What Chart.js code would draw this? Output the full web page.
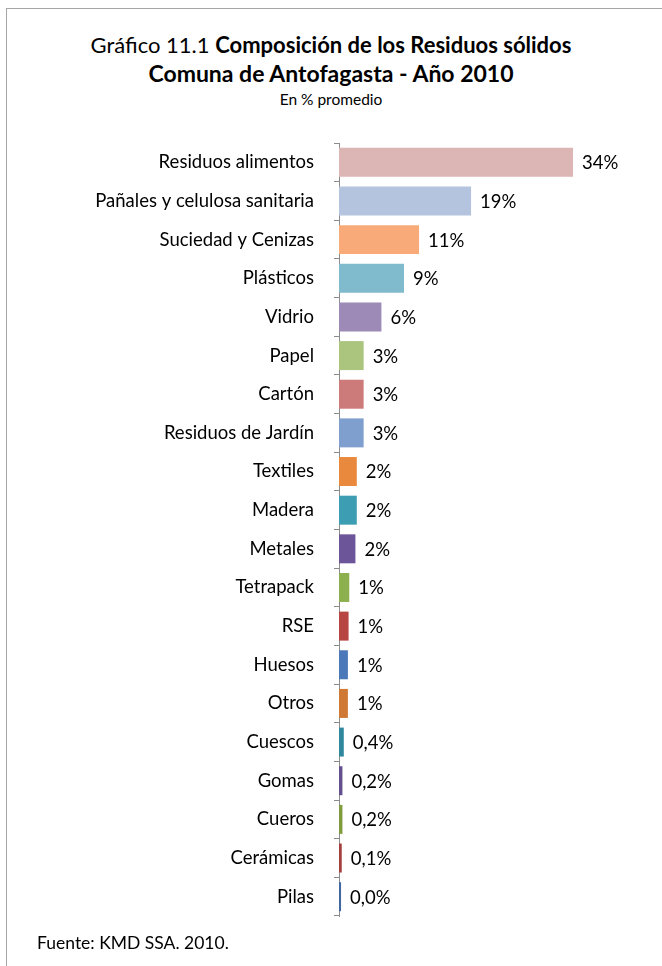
<!DOCTYPE html>
<html>
<head>
<meta charset="utf-8">
<script src="https://cdn.jsdelivr.net/npm/chart.js@4/dist/chart.umd.min.js"></script>
<style>
  html, body { margin: 0; padding: 0; background: #fff; }
  body { width: 662px; height: 966px; position: relative; overflow: hidden; font-family: Lato, "Open Sans", sans-serif; color: #000; }
  .frame { position: absolute; left: 6px; top: 8px; width: 700px; height: 1000px; border: 1px solid #a6a6a6; box-sizing: border-box; }
  .title { position: absolute; left: 0; width: 662px; text-align: center; white-space: nowrap; }
  #t1 { top: 31px; font-size: 22px; }
  #t2 { top: 59px; font-size: 23px; font-weight: bold; }
  #t3 { top: 90px; font-size: 15.5px; }
  #foot { position: absolute; left: 37px; top: 932px; font-size: 17.5px; }
  #wrap { position: absolute; left: 0; top: 0; width: 662px; height: 966px; }
</style>
</head>
<body>
<div class="frame"></div>
<div class="title" id="t1">Gráfico 11.1 <b>Composición de los Residuos sólidos</b></div>
<div class="title" id="t2">Comuna de Antofagasta - Año 2010</div>
<div class="title" id="t3">En % promedio</div>
<div id="wrap"><canvas id="chart"></canvas></div>
<div id="foot">Fuente: KMD SSA. 2010.</div>
<script>
  // categories, top to bottom
  const categories = [
    'Residuos alimentos', 'Pañales y celulosa sanitaria', 'Suciedad y Cenizas', 'Plásticos',
    'Vidrio', 'Papel', 'Cartón', 'Residuos de Jardín', 'Textiles', 'Madera', 'Metales',
    'Tetrapack', 'RSE', 'Huesos', 'Otros', 'Cuescos', 'Gomas', 'Cueros', 'Cerámicas', 'Pilas'
  ];
  // % promedio
  const values = [33.9, 19.0, 11.4, 9.2, 5.9, 3.3, 3.3, 3.3, 2.3, 2.3, 2.1, 1.2, 1.1, 1.0, 1.0, 0.4, 0.2, 0.2, 0.1, 0.0];
  const barColors = [
    '#dcb5b5', '#b4c3de', '#f8ab78', '#7fbacd', '#9e8ab6', '#abc57f', '#cd7b7a', '#7f9fcf',
    '#e9893d', '#3d9db2', '#6d5599', '#8db04f', '#b74643', '#4a78b9', '#cf7934',
    '#30889e', '#65508f', '#809c3e', '#a53f3d', '#3f68a1'
  ];

  function fmtPct(v) {
    if (v >= 1) return Math.round(v) + '%';
    return v.toFixed(1).replace('.', ',') + '%';
  }

  const valueLabels = {
    id: 'valueLabels',
    afterDatasetsDraw(chart) {
      const ctx = chart.ctx;
      const meta = chart.getDatasetMeta(0);
      ctx.save();
      ctx.font = '18.5px Lato, "Open Sans", sans-serif';
      ctx.fillStyle = '#000';
      ctx.textAlign = 'left';
      ctx.textBaseline = 'middle';
      meta.data.forEach((bar, i) => {
        ctx.fillText(fmtPct(values[i]), bar.x + 9, bar.y + 1);
      });
      ctx.restore();
    }
  };

  new Chart(document.getElementById('chart').getContext('2d'), {
    type: 'bar',
    data: {
      labels: categories,
      datasets: [{
        data: values,
        base: -0.3,
        backgroundColor: barColors,
        borderWidth: 0,
        categoryPercentage: 1,
        barPercentage: 0.75
      }]
    },
    options: {
      indexAxis: 'y',
      responsive: true,
      maintainAspectRatio: false,
      animation: false,
      layout: { padding: { left: 0, right: 13, top: 143, bottom: 50 } },
      plugins: { legend: { display: false }, tooltip: { enabled: false } },
      scales: {
        x: { display: false, min: -0.3, max: 45 },
        y: {
          afterFit: (scale) => { scale.width = 339; },
          border: { display: true, color: '#8c8c8c', width: 1 },
          grid: { drawOnChartArea: false, drawTicks: true, tickLength: 5, color: '#8c8c8c', offset: true },
          ticks: { color: '#000', padding: 20, font: { family: 'Lato, "Open Sans", sans-serif', size: 18.5 } }
        }
      }
    },
    plugins: [valueLabels]
  });
</script>
</body>
</html>
